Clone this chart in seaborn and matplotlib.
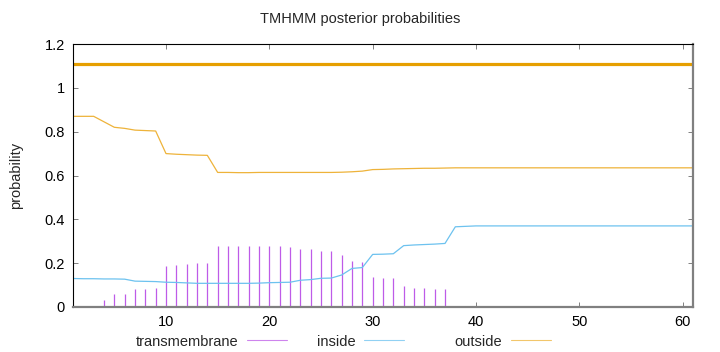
import numpy as np
import matplotlib
matplotlib.use("Agg")
import matplotlib.pyplot as plt
from matplotlib.lines import Line2D
import seaborn as sns

sns.set_theme(style="white")
plt.rcParams['font.family'] = ['Liberation Sans', 'DejaVu Sans']

# residue positions along the sequence
position = list(range(1, 62))

transmembrane = [0, 0, 0, 0.032, 0.059, 0.059, 0.082, 0.082, 0.087, 0.187,
                 0.193, 0.196, 0.199, 0.199, 0.278, 0.278, 0.278, 0.278, 0.278, 0.278,
                 0.278, 0.275, 0.263, 0.263, 0.254, 0.254, 0.239, 0.211, 0.207, 0.135,
                 0.134, 0.131, 0.096, 0.088, 0.086, 0.082, 0.082, 0, 0, 0,
                 0, 0, 0, 0, 0, 0, 0, 0, 0, 0,
                 0, 0, 0, 0, 0, 0, 0, 0, 0, 0, 0]

inside = [0.130, 0.129, 0.129, 0.128, 0.128, 0.127, 0.118, 0.117, 0.116, 0.113,
          0.112, 0.110, 0.108, 0.108, 0.108, 0.108, 0.108, 0.108, 0.109, 0.111,
          0.112, 0.113, 0.122, 0.125, 0.131, 0.132, 0.146, 0.176, 0.180, 0.240,
          0.241, 0.243, 0.280, 0.283, 0.285, 0.287, 0.290, 0.366, 0.368, 0.370,
          0.370, 0.370, 0.370, 0.370, 0.370, 0.370, 0.370, 0.370, 0.370, 0.370,
          0.370, 0.370, 0.370, 0.370, 0.370, 0.370, 0.370, 0.370, 0.370, 0.370, 0.370]

outside = [0.870, 0.870, 0.870, 0.845, 0.820, 0.815, 0.807, 0.805, 0.803, 0.700,
           0.697, 0.695, 0.693, 0.692, 0.614, 0.614, 0.613, 0.613, 0.614, 0.614,
           0.614, 0.614, 0.614, 0.614, 0.614, 0.614, 0.615, 0.617, 0.620, 0.627,
           0.628, 0.630, 0.631, 0.632, 0.633, 0.633, 0.634, 0.635, 0.635, 0.635,
           0.635, 0.635, 0.635, 0.635, 0.635, 0.635, 0.635, 0.635, 0.635, 0.635,
           0.635, 0.635, 0.635, 0.635, 0.635, 0.635, 0.635, 0.635, 0.635, 0.635, 0.635]

# predicted topology: whole sequence outside
topo_start = 1
topo_end = 61
topo_level = 1.11

y_ticks = [0, 0.2, 0.4, 0.6, 0.8, 1.0, 1.2]
y_ticklabels = ['0', '0.2', '0.4', '0.6', '0.8', '1', '1.2']
x_ticks = [10, 20, 30, 40, 50, 60]

c_tm = '#BE5BE8'
c_in = '#6DC2EF'
c_out = '#EEB33A'
c_topo = '#E69F00'
fs = 10.5

fig = plt.figure(figsize=(7.2, 3.52), dpi=100)
ax = fig.add_axes([73/720, 1 - 307/352, 620/720, 263/352])

ax.vlines(position, 0, transmembrane, color=c_tm, lw=0.9)
sns.lineplot(x=position, y=inside, ax=ax, color=c_in, lw=0.9)
sns.lineplot(x=position, y=outside, ax=ax, color=c_out, lw=0.9)
ax.hlines(topo_level, topo_start, topo_end, color=c_topo, lw=2.3)

ax.set_xlim(1, 61)
ax.set_ylim(0, 1.2)
ax.set_yticks(y_ticks)
ax.set_yticklabels(y_ticklabels)
ax.set_xticks(x_ticks)
ax.tick_params(direction='in', length=3.5, width=0.7, color='#808080',
               labelsize=fs, labelcolor='black', top=True, right=True,
               bottom=True, left=True, pad=6)

for s in ['left', 'top']:
    ax.spines[s].set_color('black')
    ax.spines[s].set_linewidth(0.8)
for s in ['right', 'bottom']:
    ax.spines[s].set_color('#808080')
    ax.spines[s].set_linewidth(1.6)

ax.set_ylabel('probability', fontsize=fs)
ax.yaxis.set_label_coords(-0.081, 0.5)
ax.set_xlabel('')
fig.text(0.5, 1 - 19/352, 'TMHMM posterior probabilities', ha='center', va='center', fontsize=fs)

# gnuplot-style key: text first, then line sample
entries = [('transmembrane', c_tm, 287), ('inside', c_in, 404), ('outside', c_out, 551)]
for label, col, xr in entries:
    h = Line2D([], [], color=col, lw=0.8, alpha=0.75)
    fig.legend([h], [label], loc='center right', bbox_to_anchor=(xr/720, 1 - 341.5/352),
               frameon=False, markerfirst=False, handlelength=2.75, handletextpad=0.6,
               borderpad=0, borderaxespad=0, fontsize=fs)

fig.savefig('out.png', dpi=100)
